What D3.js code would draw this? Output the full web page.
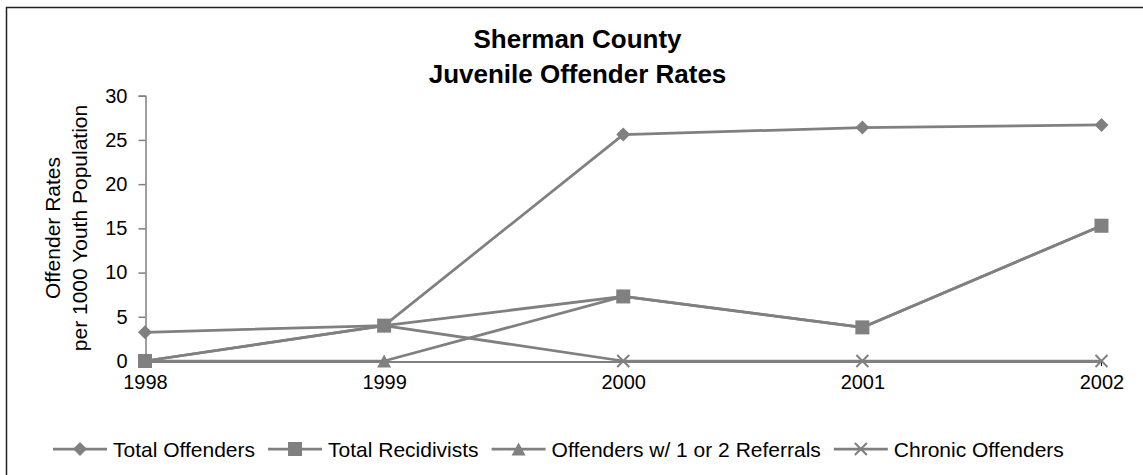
<!DOCTYPE html>
<html>
<head>
<meta charset="utf-8">
<script src="https://cdn.jsdelivr.net/npm/d3@7"></script>
<style>
  html, body { margin: 0; padding: 0; background: #fff; }
  svg { display: block; font-family: "Liberation Sans", Arial, sans-serif; }
</style>
</head>
<body>
<svg id="chart" width="1143" height="475"></svg>
<script>
const years = ["1998", "1999", "2000", "2001", "2002"];
const totalOffenders = [3.25, 4.0, 25.6, 26.4, 26.7];
const totalRecidivists = [0, 4.0, 7.3, 3.8, 15.3];
const referrals12 = [0, 0, 7.3, 3.8, 15.3];
const chronicOffenders = [0, 4.0, 0, 0, 0];
const seriesNames = ["Total Offenders", "Total Recidivists", "Offenders w/ 1 or 2 Referrals", "Chronic Offenders"];
const seriesMarkers = ["diamond", "square", "triangle", "cross"];
const yTicks = [0, 5, 10, 15, 20, 25, 30];
const titleLines = ["Sherman County", "Juvenile Offender Rates"];
const yLabelLines = ["Offender Rates", "per 1000 Youth Population"];

const seriesValues = [totalOffenders, totalRecidivists, referrals12, chronicOffenders];
const series = seriesNames.map((n, i) => ({ name: n, marker: seriesMarkers[i], values: seriesValues[i] }));

const grey = "#808080";
const svg = d3.select("#chart");

// outer border
svg.append("rect").attr("x", 6.5).attr("y", 7.5).attr("width", 1160).attr("height", 490)
  .attr("fill", "none").attr("stroke", "#222").attr("stroke-width", 1.5);

const x = d3.scalePoint().domain(years).range([145, 1101.5]);
const y = d3.scaleLinear().domain([0, 30]).range([361, 95.7]);

// title
svg.append("g").selectAll("text").data(titleLines).join("text")
  .attr("x", 577.5).attr("y", (d, i) => 48 + i * 35)
  .attr("text-anchor", "middle").attr("font-size", 26).attr("font-weight", "bold")
  .attr("fill", "#000").text(d => d);

// y axis label
svg.append("g").attr("transform", "translate(0,228) rotate(-90)")
  .selectAll("text").data(yLabelLines).join("text")
  .attr("x", 0).attr("y", (d, i) => 60 + i * 27)
  .attr("text-anchor", "middle").attr("font-size", 21).attr("fill", "#000").text(d => d);

// y axis
const yAxis = svg.append("g").attr("transform", "translate(145.5,0)")
  .call(d3.axisLeft(y).tickValues(yTicks).tickSize(7).tickPadding(11).tickFormat(d3.format("d")));
yAxis.select(".domain").attr("stroke", grey).attr("stroke-width", 1.5);
yAxis.selectAll(".tick line").attr("stroke", grey).attr("stroke-width", 1.5);
yAxis.selectAll(".tick text").attr("font-size", 20).attr("fill", "#000")
  .attr("font-family", "Liberation Sans, Arial, sans-serif");

// x axis
const xAxis = svg.append("g").attr("transform", "translate(0,361.5)")
  .call(d3.axisBottom(x).tickSize(0).tickPadding(13));
xAxis.select(".domain").attr("stroke", "#000").attr("stroke-width", 1);
xAxis.selectAll(".tick text").attr("font-size", 20).attr("fill", "#000")
  .attr("font-family", "Liberation Sans, Arial, sans-serif");
svg.append("line").attr("x1", 1101.5).attr("x2", 1101.5).attr("y1", 361).attr("y2", 366)
  .attr("stroke", "#000").attr("stroke-width", 1);

// marker drawing
function drawMarker(g, type) {
  if (type === "diamond") {
    g.append("path").attr("d", "M0,-7L7,0L0,7L-7,0Z").attr("fill", grey);
  } else if (type === "square") {
    g.append("rect").attr("x", -7).attr("y", -7).attr("width", 14).attr("height", 14).attr("fill", grey);
  } else if (type === "triangle") {
    g.append("path").attr("d", "M0,-6.5L7,6.5L-7,6.5Z").attr("fill", grey);
  } else if (type === "cross") {
    g.append("path").attr("d", "M-6,-6L6,6M-6,6L6,-6").attr("stroke", grey).attr("stroke-width", 2).attr("fill", "none");
  }
}

const line = d3.line().x((d, i) => x(years[i])).y(d => y(d));
const plot = svg.append("g");
series.forEach(s => {
  const g = plot.append("g");
  g.append("path").attr("d", line(s.values)).attr("fill", "none")
    .attr("stroke", grey).attr("stroke-width", 2.75).attr("stroke-linejoin", "round");
  s.values.forEach((v, i) => {
    const m = g.append("g").attr("transform", `translate(${x(years[i])},${y(v)})`);
    drawMarker(m, s.marker);
  });
});

// legend
const legend = svg.append("g");
let lx = 53;
const ly = 449;
series.forEach(s => {
  const item = legend.append("g");
  item.append("line").attr("x1", lx).attr("x2", lx + 54).attr("y1", ly).attr("y2", ly)
    .attr("stroke", grey).attr("stroke-width", 2.75);
  const m = item.append("g").attr("transform", `translate(${lx + 27},${ly})`);
  drawMarker(m, s.marker);
  const t = item.append("text").attr("x", lx + 60).attr("y", ly + 7.5)
    .attr("font-size", 21).attr("fill", "#000").text(s.name);
  lx = lx + 60 + t.node().getComputedTextLength() + 13;
});
</script>
</body>
</html>
